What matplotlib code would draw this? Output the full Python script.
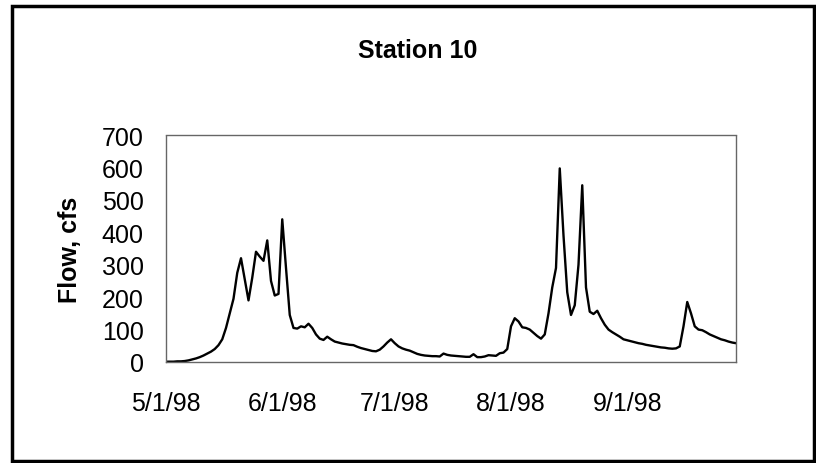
import numpy as np
import pandas as pd
import matplotlib
matplotlib.use('Agg')
import matplotlib.pyplot as plt
from matplotlib.patches import Rectangle

# Daily mean flow (cfs), 5/1/98 through 9/30/98
may = [1, 1, 1, 2, 2, 3, 5, 8, 11, 15, 20, 26, 32, 40, 52, 70, 105, 150, 195, 275,
       320, 255, 190, 260, 340, 325, 312, 375, 250, 205, 210]
june = [440, 290, 145, 105, 103, 110, 107, 118, 105, 85, 72, 68, 78, 70, 63, 60,
        57, 55, 53, 52, 47, 43, 40, 37, 34, 33, 38, 48, 60, 70]
july = [58, 48, 42, 38, 35, 30, 25, 22, 20, 19, 18, 18, 17, 26, 22, 20, 19, 18,
        17, 16, 16, 24, 15, 15, 17, 21, 20, 19, 27, 29, 40]
august = [110, 135, 125, 107, 105, 100, 90, 80, 72, 85, 150, 230, 290, 597, 390,
          215, 145, 175, 300, 545, 230, 155, 148, 158, 135, 115, 100, 92, 85, 78, 70]
september = [67, 64, 61, 58, 56, 53, 51, 49, 47, 45, 44, 42, 41, 42, 48, 110, 185,
             150, 110, 100, 98, 92, 85, 80, 75, 70, 67, 63, 60, 58]

flow = may + june + july + august + september
dates = pd.date_range('1998-05-01', '1998-09-30', freq='D')

tick_dates = pd.to_datetime(['1998-05-01', '1998-06-01', '1998-07-01',
                             '1998-08-01', '1998-09-01'])
tick_labels = ['5/1/98', '6/1/98', '7/1/98', '8/1/98', '9/1/98']
y_ticks = [0, 100, 200, 300, 400, 500, 600, 700]

plt.rcParams['font.family'] = ['Liberation Sans', 'DejaVu Sans']

fig = plt.figure(figsize=(8.16, 4.64), dpi=100)
ax = fig.add_axes([166/816, 1 - 363/464, 570/816, 227/464])

ax.plot(dates, flow, color='black', linewidth=1.7, solid_joinstyle='round')

ax.set_xlim(dates[0], dates[-1])
ax.set_ylim(0, 700)
ax.set_xticks(tick_dates)
ax.set_xticklabels(tick_labels)
ax.set_yticks(y_ticks)
ax.tick_params(axis='both', length=0, labelsize=18)
ax.tick_params(axis='y', pad=16)
ax.tick_params(axis='x', pad=21)

# dotted grey plot-area border
for side in ['left', 'right', 'top', 'bottom']:
    ax.spines[side].set_linestyle((0, (1, 1)))
    ax.spines[side].set_color('#666666')
    ax.spines[side].set_linewidth(1.0)

ax.set_ylabel('Flow, cfs', fontsize=18, fontweight='bold', labelpad=14)

fig.text(0.512, 1 - 58/464, 'Station 10', ha='center', va='baseline',
         fontsize=18, fontweight='bold')

# heavy border around the whole chart
fig.patches.append(Rectangle((12/816, 2/464), 802/816, 455/464, transform=fig.transFigure,
                             fill=False, edgecolor='black', linewidth=2.5))

fig.savefig('out.png', dpi=100)
plt.close()
